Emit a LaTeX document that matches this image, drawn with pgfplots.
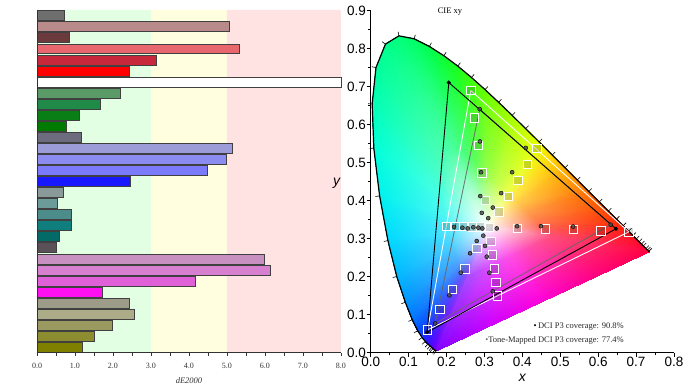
\documentclass[border=0pt]{standalone}
\usepackage{pgfplots}
\pgfplotsset{compat=1.18}
\usepackage{fontspec}
\setmainfont{Liberation Serif}
\newfontfamily\sansf{Liberation Sans}
% band colours
\definecolor{bgG}{HTML}{E3FFE3}
\definecolor{bgY}{HTML}{FFFFE0}
\definecolor{bgR}{HTML}{FFE3E3}
% bar colours
\definecolor{b1}{HTML}{6E6E6E}
\definecolor{b2}{HTML}{B88A8A}
\definecolor{b3}{HTML}{6A3A3C}
\definecolor{b4}{HTML}{E8666E}
\definecolor{b5}{HTML}{C8283C}
\definecolor{b6}{HTML}{FF0000}
\definecolor{b7}{HTML}{FFFFFF}
\definecolor{b8}{HTML}{5A9A66}
\definecolor{b9}{HTML}{208A48}
\definecolor{b10}{HTML}{0A7E16}
\definecolor{b11}{HTML}{007A00}
\definecolor{b12}{HTML}{6C6C7E}
\definecolor{b13}{HTML}{9C9CD8}
\definecolor{b14}{HTML}{8C8CF0}
\definecolor{b15}{HTML}{7A7AFA}
\definecolor{b16}{HTML}{1818FF}
\definecolor{b17}{HTML}{8A9A98}
\definecolor{b18}{HTML}{6C9C9A}
\definecolor{b19}{HTML}{4C8C8A}
\definecolor{b20}{HTML}{107E7C}
\definecolor{b21}{HTML}{046A68}
\definecolor{b22}{HTML}{5A5058}
\definecolor{b23}{HTML}{C890C0}
\definecolor{b24}{HTML}{D880D0}
\definecolor{b25}{HTML}{E060D8}
\definecolor{b26}{HTML}{FF10F0}
\definecolor{b27}{HTML}{9C9C88}
\definecolor{b28}{HTML}{ACAC88}
\definecolor{b29}{HTML}{9A9A60}
\definecolor{b30}{HTML}{8C8C30}
\definecolor{b31}{HTML}{808000}
% locus colours
\definecolor{L1}{rgb}{0.50,0,1}
\definecolor{L2}{rgb}{0.35,0,1}
\definecolor{L3}{rgb}{0.15,0.10,1}
\definecolor{L4}{rgb}{0,0.30,1}
\definecolor{L5}{rgb}{0,0.45,1}
\definecolor{L6}{rgb}{0,0.58,1}
\definecolor{L7}{rgb}{0,0.72,1}
\definecolor{L8}{rgb}{0,0.85,1}
\definecolor{L9}{rgb}{0,0.95,0.93}
\definecolor{L10}{rgb}{0,1,0.85}
\definecolor{L11}{rgb}{0,1,0.72}
\definecolor{L12}{rgb}{0,1,0.62}
\definecolor{L13}{rgb}{0,1,0.55}
\definecolor{L14}{rgb}{0,1,0.48}
\definecolor{L15}{rgb}{0,1,0.40}
\definecolor{L16}{rgb}{0,1,0.30}
\definecolor{L17}{rgb}{0.10,1,0.10}
\definecolor{L18}{rgb}{0.40,1,0}
\definecolor{L19}{rgb}{0.65,1,0}
\definecolor{L20}{rgb}{0.90,1,0}
\definecolor{L21}{rgb}{1,0.85,0}
\definecolor{L22}{rgb}{1,0.70,0}
\definecolor{L23}{rgb}{1,0.45,0}
\definecolor{L24}{rgb}{1,0.28,0}
\definecolor{L25}{rgb}{1,0.15,0.03}
\definecolor{L26}{rgb}{1,0.08,0.10}
\definecolor{L27}{rgb}{1,0,0.25}
\definecolor{L28}{rgb}{1,0,0.50}
\definecolor{L29}{rgb}{1,0,0.85}
\definecolor{L30}{rgb}{0.80,0,1}
\colorlet{Q1}{L1!70!white}
\colorlet{Q2}{L2!70!white}
\colorlet{Q3}{L3!70!white}
\colorlet{Q4}{L4!70!white}
\colorlet{Q5}{L5!70!white}
\colorlet{Q6}{L6!70!white}
\colorlet{Q7}{L7!70!white}
\colorlet{Q8}{L8!70!white}
\colorlet{Q9}{L9!70!white}
\colorlet{Q10}{L10!70!white}
\colorlet{Q11}{L11!70!white}
\colorlet{Q12}{L12!70!white}
\colorlet{Q13}{L13!70!white}
\colorlet{Q14}{L14!70!white}
\colorlet{Q15}{L15!70!white}
\colorlet{Q16}{L16!70!white}
\colorlet{Q17}{L17!70!white}
\colorlet{Q18}{L18!70!white}
\colorlet{Q19}{L19!70!white}
\colorlet{Q20}{L20!70!white}
\colorlet{Q21}{L21!70!white}
\colorlet{Q22}{L22!70!white}
\colorlet{Q23}{L23!70!white}
\colorlet{Q24}{L24!70!white}
\colorlet{Q25}{L25!70!white}
\colorlet{Q26}{L26!70!white}
\colorlet{Q27}{L27!70!white}
\colorlet{Q28}{L28!70!white}
\colorlet{Q29}{L29!70!white}
\colorlet{Q30}{L30!70!white}

\begin{document}
\begin{tikzpicture}
\useasboundingbox (0pt,0pt) rectangle (693pt,390pt);
% ================= left: dE2000 bars =================
\begin{axis}[
  at={(37pt,37.3pt)}, anchor=south west, scale only axis,
  width=304pt, height=342.7pt,
  xmin=0, xmax=8, ymin=0.5, ymax=31.5,
  axis x line*=bottom, axis y line*=left,
  axis line style={black!80, line width=0.8pt},
  ytick=\empty, xtick={0,1,2,3,4,5,6,7,8}, minor x tick num=1,
  tick align=outside, major tick length=3pt, minor tick length=3pt,
  tick style={black!80, line width=0.6pt},
  xticklabel={\pgfmathprintnumber[fixed,fixed zerofill,precision=1,assume math mode=true]{\tick}},
  xticklabel style={font=\fontsize{8}{9}\selectfont, text=black!80, yshift=-3.5pt},
  xlabel={\textit{dE2000}},
  xlabel style={font=\fontsize{8.5}{10}\selectfont, text=black!80, at={(axis description cs:0.5,-0.08)}, anchor=center},
  axis on top, clip=false
]
\addplot[fill=bgG, draw=none] coordinates {(0,0.5) (3,0.5) (3,31.5) (0,31.5) (0,0.5)};
\addplot[fill=bgY, draw=none] coordinates {(3,0.5) (5,0.5) (5,31.5) (3,31.5) (3,0.5)};
\addplot[fill=bgR, draw=none] coordinates {(5,0.5) (8,0.5) (8,31.5) (5,31.5) (5,0.5)};
\addplot[xbar, bar shift=0pt, bar width=0.9, draw=black!75, fill=b1] coordinates {(0.71,31)};
\addplot[xbar, bar shift=0pt, bar width=0.9, draw=black!75, fill=b2] coordinates {(5.05,30)};
\addplot[xbar, bar shift=0pt, bar width=0.9, draw=black!75, fill=b3] coordinates {(0.85,29)};
\addplot[xbar, bar shift=0pt, bar width=0.9, draw=black!75, fill=b4] coordinates {(5.31,28)};
\addplot[xbar, bar shift=0pt, bar width=0.9, draw=black!75, fill=b5] coordinates {(3.13,27)};
\addplot[xbar, bar shift=0pt, bar width=0.9, draw=black!75, fill=b6] coordinates {(2.42,26)};
\addplot[xbar, bar shift=0pt, bar width=0.9, draw=black!75, fill=b7] coordinates {(8.00,25)};
\addplot[xbar, bar shift=0pt, bar width=0.9, draw=black!75, fill=b8] coordinates {(2.18,24)};
\addplot[xbar, bar shift=0pt, bar width=0.9, draw=black!75, fill=b9] coordinates {(1.67,23)};
\addplot[xbar, bar shift=0pt, bar width=0.9, draw=black!75, fill=b10] coordinates {(1.10,22)};
\addplot[xbar, bar shift=0pt, bar width=0.9, draw=black!75, fill=b11] coordinates {(0.76,21)};
\addplot[xbar, bar shift=0pt, bar width=0.9, draw=black!75, fill=b12] coordinates {(1.16,20)};
\addplot[xbar, bar shift=0pt, bar width=0.9, draw=black!75, fill=b13] coordinates {(5.15,19)};
\addplot[xbar, bar shift=0pt, bar width=0.9, draw=black!75, fill=b14] coordinates {(4.99,18)};
\addplot[xbar, bar shift=0pt, bar width=0.9, draw=black!75, fill=b15] coordinates {(4.47,17)};
\addplot[xbar, bar shift=0pt, bar width=0.9, draw=black!75, fill=b16] coordinates {(2.46,16)};
\addplot[xbar, bar shift=0pt, bar width=0.9, draw=black!75, fill=b17] coordinates {(0.70,15)};
\addplot[xbar, bar shift=0pt, bar width=0.9, draw=black!75, fill=b18] coordinates {(0.53,14)};
\addplot[xbar, bar shift=0pt, bar width=0.9, draw=black!75, fill=b19] coordinates {(0.89,13)};
\addplot[xbar, bar shift=0pt, bar width=0.9, draw=black!75, fill=b20] coordinates {(0.91,12)};
\addplot[xbar, bar shift=0pt, bar width=0.9, draw=black!75, fill=b21] coordinates {(0.58,11)};
\addplot[xbar, bar shift=0pt, bar width=0.9, draw=black!75, fill=b22] coordinates {(0.50,10)};
\addplot[xbar, bar shift=0pt, bar width=0.9, draw=black!75, fill=b23] coordinates {(5.99,9)};
\addplot[xbar, bar shift=0pt, bar width=0.9, draw=black!75, fill=b24] coordinates {(6.13,8)};
\addplot[xbar, bar shift=0pt, bar width=0.9, draw=black!75, fill=b25] coordinates {(4.16,7)};
\addplot[xbar, bar shift=0pt, bar width=0.9, draw=black!75, fill=b26] coordinates {(1.71,6)};
\addplot[xbar, bar shift=0pt, bar width=0.9, draw=black!75, fill=b27] coordinates {(2.42,5)};
\addplot[xbar, bar shift=0pt, bar width=0.9, draw=black!75, fill=b28] coordinates {(2.57,4)};
\addplot[xbar, bar shift=0pt, bar width=0.9, draw=black!75, fill=b29] coordinates {(1.97,3)};
\addplot[xbar, bar shift=0pt, bar width=0.9, draw=black!75, fill=b30] coordinates {(1.50,2)};
\addplot[xbar, bar shift=0pt, bar width=0.9, draw=black!75, fill=b31] coordinates {(1.18,1)};
\end{axis}
% ================= right: CIE xy =================
\begin{axis}[
  at={(370.7pt,37.3pt)}, anchor=south west, scale only axis,
  width=303.3pt, height=342pt,
  xmin=0, xmax=0.8, ymin=0, ymax=0.9,
  axis x line*=bottom, axis y line*=left,
  axis line style={black, line width=1pt},
  xtick={0,0.1,0.2,0.3,0.4,0.5,0.6,0.7,0.8},
  ytick={0,0.1,0.2,0.3,0.4,0.5,0.6,0.7,0.8,0.9},
  minor tick num=1,
  tick align=outside, major tick length=4pt, minor tick length=2.5pt,
  tick style={black, line width=0.8pt},
  xticklabel={\pgfmathprintnumber[fixed,fixed zerofill,precision=1,assume math mode=true]{\tick}},
  yticklabel={\pgfmathprintnumber[fixed,fixed zerofill,precision=1,assume math mode=true]{\tick}},
  ticklabel style={font=\sansf\fontsize{13.5}{15}\selectfont},
  xticklabel style={yshift=3.5pt}, yticklabel style={xshift=2.8pt},
  xlabel={\textit{x}}, ylabel={\textit{y}},
  xlabel style={font=\sansf\fontsize{14}{16}\selectfont, at={(axis description cs:0.501,-0.074)}, anchor=center},
  ylabel style={font=\sansf\fontsize{14}{16}\selectfont, at={(axis description cs:-0.111,0.496)}, anchor=center, rotate=-90},
  axis on top, clip=false
]
% colour fill of the horseshoe
\addplot[patch, shader=interp, mesh/color input=explicit] table[meta=c, row sep=\\] {
x y c\\
0.31 0.33 color=white\\ 0.2556 0.2000 color=Q1\\ 0.2504 0.2035 color=Q2\\
0.2556 0.2000 color=Q1\\ 0.1741 0.0050 color=L1\\ 0.1611 0.0138 color=L2\\
0.2556 0.2000 color=Q1\\ 0.1611 0.0138 color=L2\\ 0.2504 0.2035 color=Q2\\
0.31 0.33 color=white\\ 0.2504 0.2035 color=Q2\\ 0.2436 0.2099 color=Q3\\
0.2504 0.2035 color=Q2\\ 0.1611 0.0138 color=L2\\ 0.1440 0.0297 color=L3\\
0.2504 0.2035 color=Q2\\ 0.1440 0.0297 color=L3\\ 0.2436 0.2099 color=Q3\\
0.31 0.33 color=white\\ 0.2436 0.2099 color=Q3\\ 0.2356 0.2211 color=Q4\\
0.2436 0.2099 color=Q3\\ 0.1440 0.0297 color=L3\\ 0.1241 0.0578 color=L4\\
0.2436 0.2099 color=Q3\\ 0.1241 0.0578 color=L4\\ 0.2356 0.2211 color=Q4\\
0.31 0.33 color=white\\ 0.2356 0.2211 color=Q4\\ 0.2298 0.2327 color=Q5\\
0.2356 0.2211 color=Q4\\ 0.1241 0.0578 color=L4\\ 0.1096 0.0868 color=L5\\
0.2356 0.2211 color=Q4\\ 0.1096 0.0868 color=L5\\ 0.2298 0.2327 color=Q5\\
0.31 0.33 color=white\\ 0.2298 0.2327 color=Q5\\ 0.2225 0.2511 color=Q6\\
0.2298 0.2327 color=Q5\\ 0.1096 0.0868 color=L5\\ 0.0913 0.1327 color=L6\\
0.2298 0.2327 color=Q5\\ 0.0913 0.1327 color=L6\\ 0.2225 0.2511 color=Q6\\
0.31 0.33 color=white\\ 0.2225 0.2511 color=Q6\\ 0.2135 0.2783 color=Q7\\
0.2225 0.2511 color=Q6\\ 0.0913 0.1327 color=L6\\ 0.0687 0.2007 color=L7\\
0.2225 0.2511 color=Q6\\ 0.0687 0.2007 color=L7\\ 0.2135 0.2783 color=Q7\\
0.31 0.33 color=white\\ 0.2135 0.2783 color=Q7\\ 0.2042 0.3160 color=Q8\\
0.2135 0.2783 color=Q7\\ 0.0687 0.2007 color=L7\\ 0.0454 0.2950 color=L8\\
0.2135 0.2783 color=Q7\\ 0.0454 0.2950 color=L8\\ 0.2042 0.3160 color=Q8\\
0.31 0.33 color=white\\ 0.2042 0.3160 color=Q8\\ 0.1954 0.3631 color=Q9\\
0.2042 0.3160 color=Q8\\ 0.0454 0.2950 color=L8\\ 0.0235 0.4127 color=L9\\
0.2042 0.3160 color=Q8\\ 0.0235 0.4127 color=L9\\ 0.1954 0.3631 color=Q9\\
0.31 0.33 color=white\\ 0.1954 0.3631 color=Q9\\ 0.1893 0.4134 color=Q10\\
0.1954 0.3631 color=Q9\\ 0.0235 0.4127 color=L9\\ 0.0082 0.5384 color=L10\\
0.1954 0.3631 color=Q9\\ 0.0082 0.5384 color=L10\\ 0.1893 0.4134 color=Q10\\
0.31 0.33 color=white\\ 0.1893 0.4134 color=Q10\\ 0.1876 0.4599 color=Q11\\
0.1893 0.4134 color=Q10\\ 0.0082 0.5384 color=L10\\ 0.0039 0.6548 color=L11\\
0.1893 0.4134 color=Q10\\ 0.0039 0.6548 color=L11\\ 0.1876 0.4599 color=Q11\\
0.31 0.33 color=white\\ 0.1876 0.4599 color=Q11\\ 0.1916 0.4981 color=Q12\\
0.1876 0.4599 color=Q11\\ 0.0039 0.6548 color=L11\\ 0.0139 0.7502 color=L12\\
0.1876 0.4599 color=Q11\\ 0.0139 0.7502 color=L12\\ 0.1916 0.4981 color=Q12\\
0.31 0.33 color=white\\ 0.1916 0.4981 color=Q12\\ 0.2016 0.5228 color=Q13\\
0.1916 0.4981 color=Q12\\ 0.0139 0.7502 color=L12\\ 0.0389 0.8120 color=L13\\
0.1916 0.4981 color=Q12\\ 0.0389 0.8120 color=L13\\ 0.2016 0.5228 color=Q13\\
0.31 0.33 color=white\\ 0.2016 0.5228 color=Q13\\ 0.2157 0.5315 color=Q14\\
0.2016 0.5228 color=Q13\\ 0.0389 0.8120 color=L13\\ 0.0743 0.8338 color=L14\\
0.2016 0.5228 color=Q13\\ 0.0743 0.8338 color=L14\\ 0.2157 0.5315 color=Q14\\
0.31 0.33 color=white\\ 0.2157 0.5315 color=Q14\\ 0.2317 0.5285 color=Q15\\
0.2157 0.5315 color=Q14\\ 0.0743 0.8338 color=L14\\ 0.1142 0.8262 color=L15\\
0.2157 0.5315 color=Q14\\ 0.1142 0.8262 color=L15\\ 0.2317 0.5285 color=Q15\\
0.31 0.33 color=white\\ 0.2317 0.5285 color=Q15\\ 0.2479 0.5204 color=Q16\\
0.2317 0.5285 color=Q15\\ 0.1142 0.8262 color=L15\\ 0.1547 0.8059 color=L16\\
0.2317 0.5285 color=Q15\\ 0.1547 0.8059 color=L16\\ 0.2479 0.5204 color=Q16\\
0.31 0.33 color=white\\ 0.2479 0.5204 color=Q16\\ 0.2778 0.4997 color=Q17\\
0.2479 0.5204 color=Q16\\ 0.1547 0.8059 color=L16\\ 0.2296 0.7543 color=L17\\
0.2479 0.5204 color=Q16\\ 0.2296 0.7543 color=L17\\ 0.2778 0.4997 color=Q17\\
0.31 0.33 color=white\\ 0.2778 0.4997 color=Q17\\ 0.3066 0.4749 color=Q18\\
0.2778 0.4997 color=Q17\\ 0.2296 0.7543 color=L17\\ 0.3016 0.6923 color=L18\\
0.2778 0.4997 color=Q17\\ 0.3016 0.6923 color=L18\\ 0.3066 0.4749 color=Q18\\
0.31 0.33 color=white\\ 0.3066 0.4749 color=Q18\\ 0.3352 0.4478 color=Q19\\
0.3066 0.4749 color=Q18\\ 0.3016 0.6923 color=L18\\ 0.3731 0.6245 color=L19\\
0.3066 0.4749 color=Q18\\ 0.3731 0.6245 color=L19\\ 0.3352 0.4478 color=Q19\\
0.31 0.33 color=white\\ 0.3352 0.4478 color=Q19\\ 0.3636 0.4199 color=Q20\\
0.3352 0.4478 color=Q19\\ 0.3731 0.6245 color=L19\\ 0.4441 0.5547 color=L20\\
0.3352 0.4478 color=Q19\\ 0.4441 0.5547 color=L20\\ 0.3636 0.4199 color=Q20\\
0.31 0.33 color=white\\ 0.3636 0.4199 color=Q20\\ 0.3775 0.4061 color=Q21\\
0.3636 0.4199 color=Q20\\ 0.4441 0.5547 color=L20\\ 0.4788 0.5202 color=L21\\
0.3636 0.4199 color=Q20\\ 0.4788 0.5202 color=L21\\ 0.3775 0.4061 color=Q21\\
0.31 0.33 color=white\\ 0.3775 0.4061 color=Q21\\ 0.3910 0.3926 color=Q22\\
0.3775 0.4061 color=Q21\\ 0.4788 0.5202 color=L21\\ 0.5125 0.4866 color=L22\\
0.3775 0.4061 color=Q21\\ 0.5125 0.4866 color=L22\\ 0.3910 0.3926 color=Q22\\
0.31 0.33 color=white\\ 0.3910 0.3926 color=Q22\\ 0.4161 0.3677 color=Q23\\
0.3910 0.3926 color=Q22\\ 0.5125 0.4866 color=L22\\ 0.5752 0.4242 color=L23\\
0.3910 0.3926 color=Q22\\ 0.5752 0.4242 color=L23\\ 0.4161 0.3677 color=Q23\\
0.31 0.33 color=white\\ 0.4161 0.3677 color=Q23\\ 0.4368 0.3470 color=Q24\\
0.4161 0.3677 color=Q23\\ 0.5752 0.4242 color=L23\\ 0.6270 0.3725 color=L24\\
0.4161 0.3677 color=Q23\\ 0.6270 0.3725 color=L24\\ 0.4368 0.3470 color=Q24\\
0.31 0.33 color=white\\ 0.4368 0.3470 color=Q24\\ 0.4523 0.3316 color=Q25\\
0.4368 0.3470 color=Q24\\ 0.6270 0.3725 color=L24\\ 0.6658 0.3340 color=L25\\
0.4368 0.3470 color=Q24\\ 0.6658 0.3340 color=L25\\ 0.4523 0.3316 color=Q25\\
0.31 0.33 color=white\\ 0.4523 0.3316 color=Q25\\ 0.4626 0.3213 color=Q26\\
0.4523 0.3316 color=Q25\\ 0.6658 0.3340 color=L25\\ 0.6915 0.3083 color=L26\\
0.4523 0.3316 color=Q25\\ 0.6915 0.3083 color=L26\\ 0.4626 0.3213 color=Q26\\
0.31 0.33 color=white\\ 0.4626 0.3213 color=Q26\\ 0.4799 0.3041 color=Q27\\
0.4626 0.3213 color=Q26\\ 0.6915 0.3083 color=L26\\ 0.7347 0.2653 color=L27\\
0.4626 0.3213 color=Q26\\ 0.7347 0.2653 color=L27\\ 0.4799 0.3041 color=Q27\\
0.31 0.33 color=white\\ 0.4799 0.3041 color=Q27\\ 0.4238 0.2781 color=Q28\\
0.4799 0.3041 color=Q27\\ 0.7347 0.2653 color=L27\\ 0.5946 0.2002 color=L28\\
0.4799 0.3041 color=Q27\\ 0.5946 0.2002 color=L28\\ 0.4238 0.2781 color=Q28\\
0.31 0.33 color=white\\ 0.4238 0.2781 color=Q28\\ 0.3678 0.2521 color=Q29\\
0.4238 0.2781 color=Q28\\ 0.5946 0.2002 color=L28\\ 0.4544 0.1352 color=L29\\
0.4238 0.2781 color=Q28\\ 0.4544 0.1352 color=L29\\ 0.3678 0.2521 color=Q29\\
0.31 0.33 color=white\\ 0.3678 0.2521 color=Q29\\ 0.3117 0.2260 color=Q30\\
0.3678 0.2521 color=Q29\\ 0.4544 0.1352 color=L29\\ 0.3143 0.0701 color=L30\\
0.3678 0.2521 color=Q29\\ 0.3143 0.0701 color=L30\\ 0.3117 0.2260 color=Q30\\
0.31 0.33 color=white\\ 0.3117 0.2260 color=Q30\\ 0.2556 0.2000 color=Q1\\
0.3117 0.2260 color=Q30\\ 0.3143 0.0701 color=L30\\ 0.1741 0.0050 color=L1\\
0.3117 0.2260 color=Q30\\ 0.1741 0.0050 color=L1\\ 0.2556 0.2000 color=Q1\\
};
% spectral locus outline
\addplot[black, line width=1.2pt, line join=round] coordinates {
(0.1741,0.0050) (0.1714,0.0051) (0.1689,0.0069) (0.1644,0.0109) (0.1566,0.0177)
(0.1440,0.0297) (0.1355,0.0399) (0.1241,0.0578) (0.1096,0.0868) (0.0913,0.1327)
(0.0687,0.2007) (0.0454,0.2950) (0.0235,0.4127) (0.0082,0.5384) (0.0039,0.6548)
(0.0139,0.7502) (0.0389,0.8120) (0.0743,0.8338) (0.1142,0.8262) (0.1547,0.8059)
(0.1929,0.7816) (0.2296,0.7543) (0.2658,0.7243) (0.3016,0.6923) (0.3373,0.6589)
(0.3731,0.6245) (0.4087,0.5896) (0.4441,0.5547) (0.4788,0.5202) (0.5125,0.4866)
(0.5448,0.4544) (0.5752,0.4242) (0.6029,0.3965) (0.6270,0.3725) (0.6482,0.3514)
(0.6658,0.3340) (0.6801,0.3197) (0.6915,0.3083) (0.7079,0.2920) (0.7190,0.2809)
(0.7260,0.2740) (0.7300,0.2700) (0.7334,0.2666) (0.7347,0.2653)};
% wavelength ticks
\addplot[black, line width=0.6pt, quiver={u=\thisrow{u}, v=\thisrow{v}}] table[row sep=\\] {
x y u v\\
0.1714 0.0051 -0.0054 -0.0096\\
0.1689 0.0069 -0.0070 -0.0085\\
0.1644 0.0109 -0.0073 -0.0082\\
0.1611 0.0138 -0.0072 -0.0083\\
0.1566 0.0177 -0.0073 -0.0083\\
0.1510 0.0227 -0.0076 -0.0080\\
0.1440 0.0297 -0.0082 -0.0074\\
0.1355 0.0399 -0.0090 -0.0064\\
0.1241 0.0578 -0.0096 -0.0053\\
0.1096 0.0868 -0.0101 -0.0044\\
0.0913 0.1327 -0.0104 -0.0037\\
0.0687 0.2007 -0.0106 -0.0030\\
0.0454 0.2950 -0.0108 -0.0023\\
0.0235 0.4127 -0.0109 -0.0017\\
0.0082 0.5384 -0.0110 -0.0009\\
0.0039 0.6548 -0.0110 0.0003\\
0.0139 0.7502 -0.0107 0.0024\\
0.0389 0.8120 -0.0089 0.0064\\
0.0743 0.8338 -0.0020 0.0108\\
0.1142 0.8262 0.0036 0.0104\\
0.1547 0.8059 0.0054 0.0096\\
0.1929 0.7816 0.0062 0.0091\\
0.2296 0.7543 0.0068 0.0086\\
0.2658 0.7243 0.0072 0.0083\\
0.3016 0.6923 0.0074 0.0081\\
0.3373 0.6589 0.0076 0.0080\\
0.3731 0.6245 0.0077 0.0079\\
0.4087 0.5896 0.0077 0.0078\\
0.4441 0.5547 0.0078 0.0078\\
0.4788 0.5202 0.0078 0.0078\\
0.5125 0.4866 0.0078 0.0078\\
0.5448 0.4544 0.0078 0.0078\\
0.5752 0.4242 0.0078 0.0078\\
0.6029 0.3965 0.0078 0.0078\\
0.6270 0.3725 0.0078 0.0078\\
0.6482 0.3514 0.0078 0.0078\\
0.6658 0.3340 0.0078 0.0078\\
0.6801 0.3197 0.0078 0.0078\\
0.6915 0.3083 0.0078 0.0078\\
0.7006 0.2993 0.0078 0.0078\\
0.7079 0.2920 0.0078 0.0078\\
0.7140 0.2859 0.0078 0.0078\\
0.7190 0.2809 0.0078 0.0078\\
0.7260 0.2740 0.0078 0.0078\\
0.7300 0.2700 0.0078 0.0078\\
0.7334 0.2666 0.0078 0.0078\\
};
% target gamut (white)
\addplot[white, line width=0.9pt] coordinates {(0.264,0.690) (0.681,0.318) (0.150,0.060) (0.264,0.690)};
% tone-mapped gamut (gray)
\addplot[black!60, opacity=0.85, line width=0.9pt] coordinates {(0.2875,0.641) (0.633,0.337) (0.170,0.077) (0.2875,0.641)};
% measured gamut (black)
\addplot[black, line width=0.9pt] coordinates {(0.206,0.711) (0.647,0.326) (0.149,0.054) (0.206,0.711)};
% target squares
\addplot[only marks, mark=square*, mark size=4.2pt, mark options={draw=white, fill=black, fill opacity=0.15, line width=0.8pt}] coordinates {
(0.313,0.329)
(0.387,0.327) (0.460,0.326) (0.534,0.324) (0.607,0.321) (0.681,0.318)
(0.303,0.401) (0.293,0.473) (0.284,0.546) (0.274,0.618) (0.264,0.690)
(0.280,0.275) (0.248,0.221) (0.215,0.167) (0.183,0.114) (0.150,0.060)
(0.290,0.331) (0.268,0.331) (0.245,0.332) (0.223,0.332) (0.200,0.332)
(0.317,0.293) (0.321,0.257) (0.326,0.221) (0.330,0.185) (0.334,0.149)
(0.338,0.371) (0.363,0.412) (0.388,0.454) (0.413,0.496) (0.438,0.537)};
% measured points
\addplot[only marks, mark=*, mark size=2pt, mark options={draw=none, fill=black!70, fill opacity=0.85}] coordinates {
(0.2945,0.327)
(0.3325,0.327) (0.386,0.333) (0.449,0.333) (0.534,0.332) (0.633,0.337)
(0.293,0.368) (0.289,0.412) (0.291,0.475) (0.288,0.556) (0.2875,0.641)
(0.310,0.354) (0.322,0.382) (0.344,0.420) (0.373,0.475) (0.409,0.539)
(0.284,0.329) (0.2707,0.330) (0.2559,0.327) (0.2418,0.329) (0.2198,0.331)
(0.2797,0.294) (0.262,0.2616) (0.2375,0.2105) (0.2075,0.151) (0.170,0.077)
(0.297,0.308) (0.3016,0.281) (0.306,0.2527) (0.313,0.2105) (0.322,0.1615)};
\addplot[only marks, mark=*, mark size=1.8pt, mark options={draw=none, fill=black}] coordinates {(0.206,0.711) (0.647,0.326) (0.149,0.054)};
\node[font=\fontsize{8.5}{10}\selectfont] at (axis cs:0.209,0.897) {CIE xy};
\node[anchor=east, inner sep=0pt, font=\fontsize{8.5}{10}\selectfont, text=black!85] at (axis cs:0.668,0.070) {\textcolor{black}{\textbullet}\,DCI P3 coverage: 90.8\%};
\node[anchor=east, inner sep=0pt, font=\fontsize{8.5}{10}\selectfont, text=black!85] at (axis cs:0.668,0.031) {\textcolor{black!55}{\textbullet}Tone-Mapped DCI P3 coverage: 77.4\%};
\end{axis}
\end{tikzpicture}
\end{document}
